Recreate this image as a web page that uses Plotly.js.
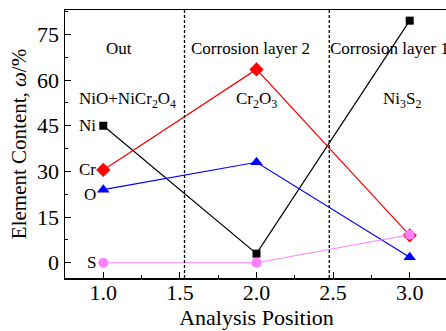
<!DOCTYPE html>
<html>
<head>
<meta charset="utf-8">
<script src="https://cdn.plot.ly/plotly-3.0.1.min.js"></script>
<style>html,body{margin:0;padding:0;overflow:hidden;background:#fff;}</style>
</head>
<body>
<div id="chart" style="width:448px;height:331px;"></div>
<script>
const positions = [1.0, 2.0, 3.0];
const niValues = [45, 3, 79.5];
const crValues = [30.5, 63.5, 9];
const oValues = [24, 33, 1.8];
const sValues = [0, 0, 9.2];
const boundaries = [1.53, 2.475];
const regionLabels = ['Out', 'Corrosion layer 2', 'Corrosion layer 1'];
const regionX = [1.1, 1.96, 2.87];
const phaseLabels = ['NiO+NiCr<sub>2</sub>O<sub>4</sub>', 'Cr<sub>2</sub>O<sub>3</sub>', 'Ni<sub>3</sub>S<sub>2</sub>'];
const phaseX = [1.155, 2.0, 2.95];
const seriesNames = ['Ni', 'Cr', 'O', 'S'];

const font = 'Liberation Serif, Times New Roman, serif';
function tr(y, color, symbol, size, name) {
  return {x: positions, y: y, type: 'scatter', mode: 'lines+markers', name: name,
    line: {color: color, width: 1.2}, marker: {color: color, symbol: symbol, size: size}};
}
const data = [
  tr(niValues, '#000000', 'square', 8, 'Ni'),
  tr(crValues, '#ff0000', 'diamond', 11, 'Cr'),
  tr(oValues, '#0000ff', 'triangle-up', 11, 'O'),
  tr(sValues, '#ff80ff', 'circle', 10, 'S')
];
const shapes = boundaries.map(b => ({type: 'line', xref: 'x', yref: 'paper', x0: b, x1: b, y0: 0, y1: 1,
  line: {color: '#000', width: 1.3, dash: '3px,2px'}}));
const annotations = [];
regionLabels.forEach((t, i) => annotations.push({x: regionX[i], y: 70.5, xref: 'x', yref: 'y', text: t,
  showarrow: false, font: {family: font, size: 17, color: '#000'}}));
phaseLabels.forEach((t, i) => annotations.push({x: phaseX[i], y: 53.5, xref: 'x', yref: 'y', text: t,
  showarrow: false, font: {family: font, size: 17, color: '#000'}}));
const firstVals = [niValues[0], crValues[0], oValues[0] - 1.5, sValues[0]];
seriesNames.forEach((n, i) => annotations.push({x: positions[0], y: firstVals[i], xref: 'x', yref: 'y', text: n,
  showarrow: false, xanchor: 'right', xshift: -5, font: {family: font, size: 17, color: '#000'}}));

const layout = {
  width: 448, height: 331,
  margin: {l: 65, r: 0, t: 10, b: 53},
  paper_bgcolor: '#fff', plot_bgcolor: '#fff',
  showlegend: false,
  font: {family: font, color: '#000', size: 18},
  xaxis: {range: [0.75, 3.25], tickvals: [1.0, 1.5, 2.0, 2.5, 3.0], ticktext: ['1.0', '1.5', '2.0', '2.5', '3.0'],
    ticks: 'inside', ticklen: 6, tickwidth: 1, tickcolor: '#000', ticklabelstandoff: -6,
    minor: {dtick: 0.25, tick0: 0.75, ticks: 'inside', ticklen: 3, tickcolor: '#000'},
    showline: true, linecolor: '#000', linewidth: 1.5, mirror: true, showgrid: false, zeroline: false,
    tickfont: {family: font, size: 22}, title: {text: 'Analysis Position', font: {family: font, size: 22}, standoff: 2}},
  yaxis: {range: [-5, 83], tickvals: [0, 15, 30, 45, 60, 75],
    ticks: 'inside', ticklen: 6, tickwidth: 1, tickcolor: '#000',
    minor: {dtick: 7.5, tick0: 0, ticks: 'inside', ticklen: 3, tickcolor: '#000'},
    showline: true, linecolor: '#000', linewidth: 1.5, mirror: true, showgrid: false, zeroline: false,
    tickfont: {family: font, size: 22}, title: {text: 'Element Content, <i>ω</i>/%', font: {family: font, size: 21}, standoff: 4}},
  shapes: shapes,
  annotations: annotations
};
Plotly.newPlot('chart', data, layout, {displayModeBar: false, staticPlot: true});
</script>
</body>
</html>
